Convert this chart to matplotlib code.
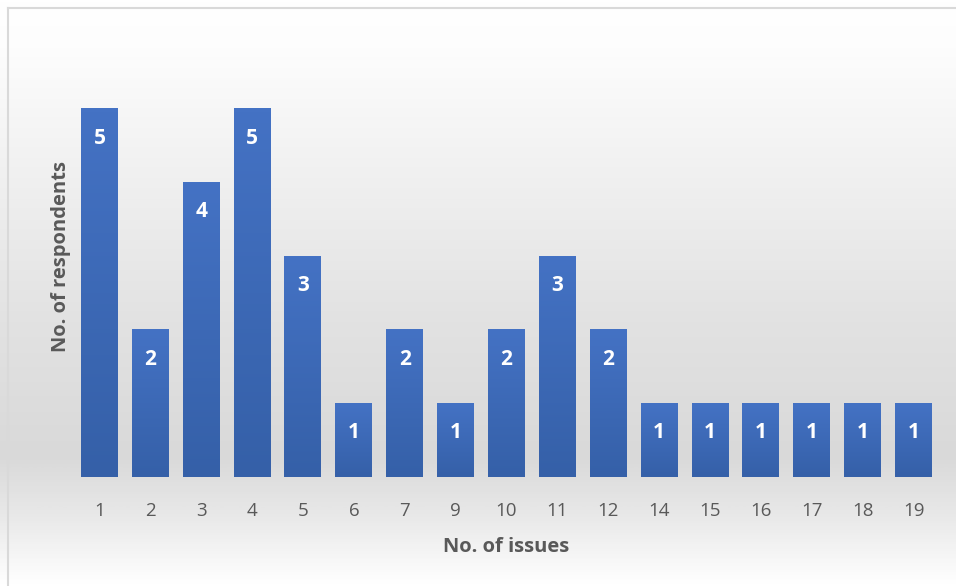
import numpy as np
import matplotlib.pyplot as plt
from matplotlib.colors import LinearSegmentedColormap
from matplotlib.lines import Line2D

# datos
issues = ['1', '2', '3', '4', '5', '6', '7', '9', '10', '11', '12', '14', '15', '16', '17', '18', '19']
respondents = [5, 2, 4, 5, 3, 1, 2, 1, 2, 3, 2, 1, 1, 1, 1, 1, 1]

W, H = 956, 586
fig = plt.figure(figsize=(W / 100, H / 100), dpi=100)

# fondo degradado (blanco - gris - blanco)
bg_ax = fig.add_axes([0, 0, 1, 1], zorder=0)
bg_cmap = LinearSegmentedColormap.from_list(
    'bg', [(0.0, '#ffffff'), (0.08, '#fdfdfd'), (0.25, '#f3f3f3'),
           (0.55, '#e2e2e2'), (0.78, '#d9d9d9'), (0.88, '#e8e8e8'), (1.0, '#ffffff')])
grad = np.linspace(0, 1, 400).reshape(-1, 1)
bg_ax.imshow(grad, aspect='auto', cmap=bg_cmap, extent=[0, 1, 1, 0])
bg_ax.set_xlim(0, 1)
bg_ax.set_ylim(1, 0)
bg_ax.axis('off')
# borde solo arriba e izquierda (el resto queda fuera de la imagen)
x0, y0 = 7.5 / W, 1 - 7.5 / H
fig.add_artist(Line2D([x0, 1], [y0, y0], color='#d9d9d9', lw=1.5, transform=fig.transFigure))
fig.add_artist(Line2D([x0, x0], [0, y0], color='#d9d9d9', lw=1.5, transform=fig.transFigure))

ax = fig.add_axes([74 / W, 109 / H, (939 - 74) / W, (477 - 35) / H], zorder=1)
ax.patch.set_alpha(0)

x = np.arange(len(issues))
width = 0.727
bar_cmap = LinearSegmentedColormap.from_list('bar', ['#3560a8', '#4472c4'])
bars = ax.bar(x, respondents, width=width, color='none', edgecolor='none')
for b in bars:
    bx, by = b.get_x(), b.get_y()
    bw, bh = b.get_width(), b.get_height()
    ax.imshow(np.linspace(0, 1, 100).reshape(-1, 1), cmap=bar_cmap, origin='lower',
              aspect='auto', extent=[bx, bx + bw, by, by + bh], zorder=2)
    ax.text(bx + bw / 2, by + bh - 0.4, str(int(bh)), ha='center', va='center',
            color='white', fontsize=15, fontweight='bold', family='Open Sans', zorder=3)

ax.set_xlim(-0.5, len(issues) - 0.5)
ax.set_ylim(0, 6)
ax.set_xticks(x)
ax.set_xticklabels(issues, fontsize=13.5, color='#595959', family='Open Sans')
ax.tick_params(axis='x', length=0, pad=18)
ax.set_yticks([])
for s in ax.spines.values():
    s.set_visible(False)

ax.set_xlabel('No. of issues', fontsize=14.5, fontweight='bold', color='#595959',
              family='Open Sans', labelpad=12)
ax.set_ylabel('No. of respondents', fontsize=14.5, fontweight='bold', color='#595959',
              family='Open Sans', labelpad=2)

fig.savefig('out.png', dpi=100)
